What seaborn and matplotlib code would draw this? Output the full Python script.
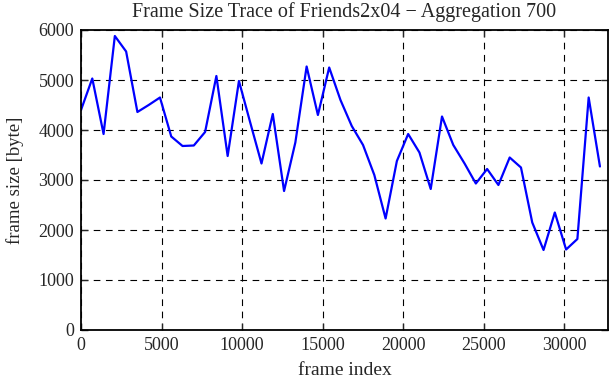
import numpy as np
import pandas as pd
import matplotlib
matplotlib.use("Agg")
import matplotlib.pyplot as plt
import seaborn as sns

# frame size per aggregation window of 700 frames
frame_size = [4400, 5030, 3920, 5880, 5570, 4360, 4500, 4650, 3870, 3680,
              3690, 3960, 5080, 3480, 4980, 4150, 3330, 4320, 2780, 3750,
              5270, 4300, 5250, 4600, 4080, 3700, 3100, 2230, 3380, 3920,
              3550, 2820, 4270, 3700, 3330, 2930, 3220, 2900, 3450, 3250,
              2150, 1600, 2350, 1610, 1820, 4650, 3270]
frame_index = [700 * i for i in range(len(frame_size))]

df = pd.DataFrame({"frame index": frame_index, "frame size": frame_size})

sns.set_style("ticks")
plt.rcParams['font.family'] = ['Liberation Serif', 'DejaVu Serif']

fig = plt.figure(figsize=(6.11, 3.8), dpi=100)
ax = fig.add_axes([81 / 611, 1 - 330 / 380, 527 / 611, 300 / 380])

sns.lineplot(data=df, x="frame index", y="frame size", ax=ax,
             color="#0000ff", linewidth=1.6)

ax.set_xlim(0, 32700)
ax.set_ylim(0, 6000)
ax.set_xticks(range(0, 30001, 5000))
ax.set_yticks(range(0, 6001, 1000))
ax.grid(True, color="black", linestyle=(0, (6, 5)), linewidth=0.8)
ax.tick_params(direction="in", top=True, right=True, length=5, width=1,
               labelsize=13, pad=5)
for s in ax.spines.values():
    s.set_linewidth(1.3)
    s.set_color("black")

ax.set_xlabel("frame index", fontsize=14, labelpad=6)
ax.set_ylabel("frame size [byte]", fontsize=13.5, labelpad=10)
ax.set_title("Frame Size Trace of Friends2x04 \u2212 Aggregation 700",
             fontsize=14.5, pad=9)

fig.savefig("out.png", dpi=100)
